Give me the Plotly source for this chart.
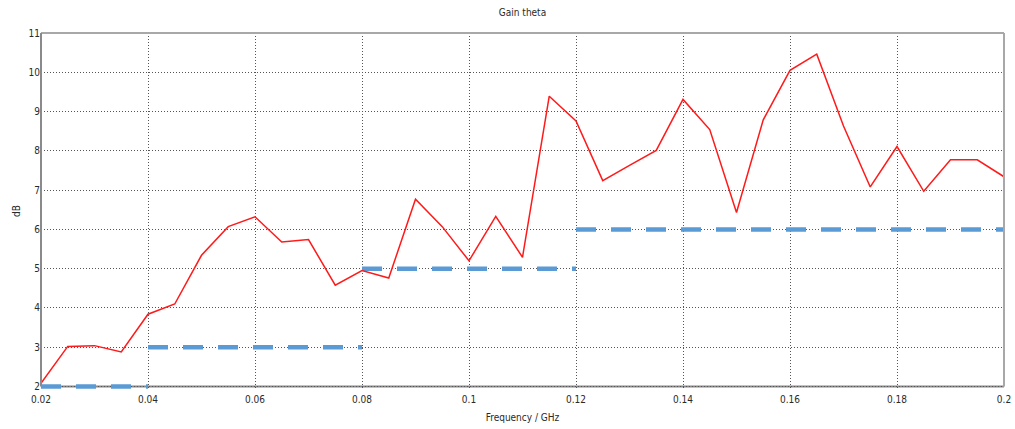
import plotly.graph_objects as go

# Simulated gain (theta component) versus frequency
freq_ghz = [0.02, 0.025, 0.03, 0.035, 0.04, 0.045, 0.05, 0.055, 0.06, 0.065,
            0.07, 0.075, 0.08, 0.085, 0.09, 0.095, 0.1, 0.105, 0.11, 0.115,
            0.12, 0.125, 0.13, 0.135, 0.14, 0.145, 0.15, 0.155, 0.16, 0.165,
            0.17, 0.175, 0.18, 0.185, 0.19, 0.195, 0.2]
gain_db = [2.08, 3.02, 3.04, 2.88, 3.84, 4.1, 5.34, 6.07, 6.32, 5.68,
           5.74, 4.58, 4.95, 4.76, 6.77, 6.07, 5.2, 6.33, 5.29, 9.39,
           8.76, 7.24, 7.63, 8.01, 9.31, 8.54, 6.43, 8.79, 10.05, 10.46,
           8.63, 7.08, 8.11, 6.97, 7.77, 7.77, 7.34]

# Required minimum gain per frequency band
band_start = [0.02, 0.04, 0.08, 0.12]
band_end = [0.04, 0.08, 0.12, 0.2]
band_min_db = [2, 3, 5, 6]

x_tick_vals = [0.02, 0.04, 0.06, 0.08, 0.1, 0.12, 0.14, 0.16, 0.18, 0.2]
x_tick_text = ["0.02", "0.04", "0.06", "0.08", "0.1", "0.12", "0.14", "0.16", "0.18", "0.2"]
y_tick_vals = [2, 3, 4, 5, 6, 7, 8, 9, 10, 11]

y_min, y_max = 2, 11
# a little headroom below the lowest value so the thick band line at 2 dB is not clipped
y_pad = 0.064

spec_x, spec_y = [], []
for x0, x1, g in zip(band_start, band_end, band_min_db):
    spec_x += [x0, x1, None]
    spec_y += [g, g, None]

fig = go.Figure()
fig.add_trace(go.Scatter(
    x=spec_x, y=spec_y, mode="lines", connectgaps=False,
    line=dict(color="#5B9BD5", width=4.5, dash="20px,15px"),
    hoverinfo="skip", showlegend=False,
))
fig.add_trace(go.Scatter(
    x=freq_ghz, y=gain_db, mode="lines",
    line=dict(color="#FF1A1A", width=1.5),
    showlegend=False,
))

font_family = "DejaVu Sans Condensed, DejaVu Sans"
text_color = "#2a2a2a"
axis_common = dict(
    showgrid=True, gridcolor="#555555", griddash="1px,2px", gridwidth=1,
    zeroline=False, ticks="", showline=False, automargin=False,
    tickfont=dict(family=font_family, size=10, color=text_color),
)

fig.update_layout(
    width=1015, height=429,
    margin=dict(l=41, r=11, t=33, b=40),
    paper_bgcolor="white", plot_bgcolor="white",
    title=dict(text="Gain theta", x=0.5, xref="paper", y=0.972, yref="container",
               xanchor="center", yanchor="middle",
               font=dict(family=font_family, size=10, color=text_color)),
    xaxis=dict(range=[0.02, 0.2], tickvals=x_tick_vals, ticktext=x_tick_text,
               ticklabelstandoff=3,
               title=dict(text="Frequency / GHz", standoff=9,
                          font=dict(family=font_family, size=10, color=text_color)),
               **axis_common),
    yaxis=dict(range=[y_min - y_pad, y_max], tickvals=y_tick_vals,
               title=dict(text="dB", standoff=6,
                          font=dict(family=font_family, size=10, color=text_color)),
               **axis_common),
)

# Frame: darker bottom/left axes, lighter top/right border
fig.add_shape(type="line", xref="paper", yref="paper", x0=0, x1=1, y0=1, y1=1,
              line=dict(color="#a8a8a8", width=2), layer="above")
fig.add_shape(type="line", xref="paper", yref="y", x0=1, x1=1, y0=y_min, y1=y_max,
              line=dict(color="#a8a8a8", width=2), layer="above")
fig.add_shape(type="line", xref="paper", yref="y", x0=0, x1=1, y0=y_min, y1=y_min,
              line=dict(color="#8a8a8a", width=2), layer="below")
fig.add_shape(type="line", xref="paper", yref="y", x0=0, x1=0, y0=y_min, y1=y_max,
              line=dict(color="#8a8a8a", width=2), layer="above")

fig.write_html("out.html")
